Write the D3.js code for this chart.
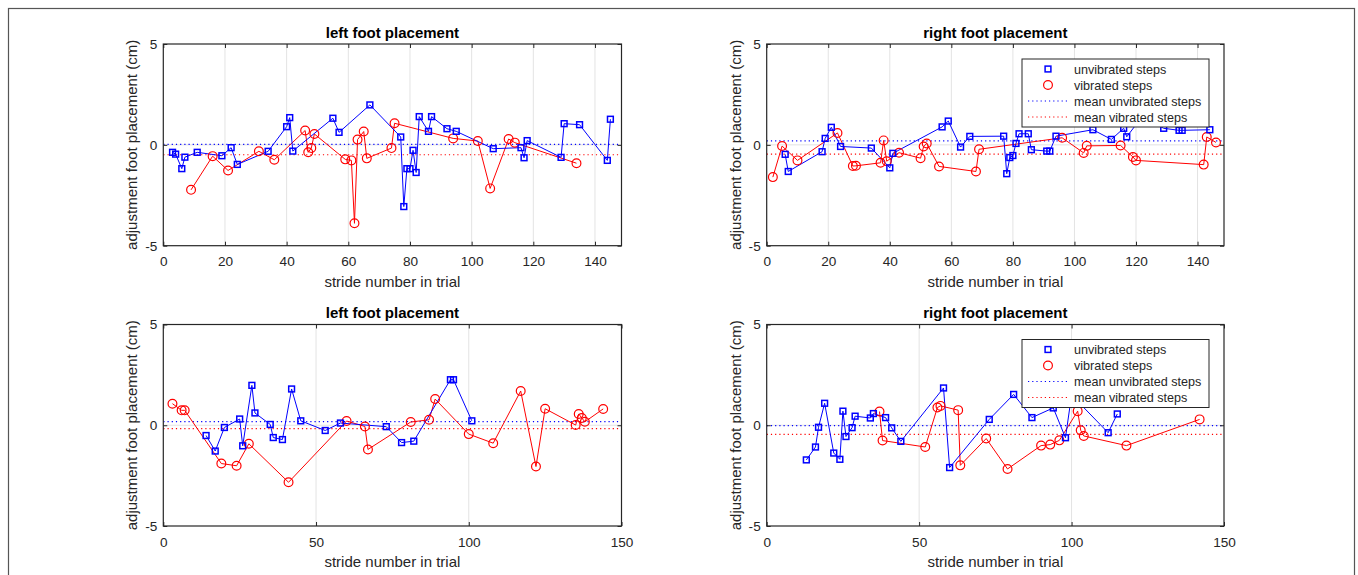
<!DOCTYPE html>
<html><head><meta charset="utf-8">
<script src="https://cdn.jsdelivr.net/npm/d3@7"></script>
<style>
body{margin:0;background:#fff;}
svg{display:block;font-family:"Liberation Sans",Arial,Helvetica,sans-serif;}
</style>
</head><body>
<svg id="c" width="1358" height="575"></svg>
<script>
// ---------- data ----------
const xTicksTop = [0,20,40,60,80,100,120,140];
const xTicksBottom = [0,50,100,150];
const yTicks = [-5,0,5];
const panelTitles = ["left foot placement","right foot placement","left foot placement","right foot placement"];
const xLabel = "stride number in trial";
const yLabel = "adjustment foot placement (cm)";
const legendLabels = ["unvibrated steps","vibrated steps","mean unvibrated steps","mean vibrated steps"];

// panel 1 (top left)
const p1Unvibrated = [[3,-0.37],[4,-0.46],[6,-1.18],[7,-0.61],[11,-0.37],[19,-0.54],[22,-0.14],[24,-0.97],[34,-0.32],[40,0.90],[41,1.35],[42,-0.31],[55,1.32],[57,0.62],[67,1.98],[77,0.39],[78,-3.06],[79,-1.18],[80,-1.18],[81,-0.27],[82,-1.37],[83,1.40],[86,0.67],[87,1.40],[92,0.80],[95,0.67],[107,-0.19],[116,-0.14],[117,-0.64],[118,0.21],[129,-0.62],[130,1.05],[135,1.00],[144,-0.77],[145,1.27]];
const p1Vibrated = [[9,-2.23],[16,-0.56],[21,-1.27],[31,-0.32],[36,-0.74],[46,0.71],[47,-0.37],[48,-0.16],[49,0.54],[59,-0.72],[61,-0.77],[62,-3.89],[63,0.26],[65,0.66],[66,-0.67],[74,-0.16],[75,1.07],[94,0.32],[102,0.19],[106,-2.16],[112,0.29],[114,0.11],[134,-0.91]];
const p1Means = [0.02,-0.49];

// panel 2 (top right)
const p2Unvibrated = [[6,-0.47],[7,-1.32],[18,-0.34],[19,0.32],[21,0.87],[24,-0.08],[34,-0.16],[40,-1.14],[41,-0.42],[57,0.89],[59,1.18],[63,-0.11],[66,0.42],[77,0.43],[78,-1.43],[79,-0.63],[80,-0.53],[81,0.07],[82,0.55],[85,0.55],[86,-0.24],[91,-0.31],[92,-0.31],[94,0.43],[106,0.75],[112,0.27],[116,0.82],[117,0.40],[122,1.40],[129,0.82],[134,0.72],[135,0.72],[144,0.75]];
const p2Vibrated = [[2,-1.60],[5,-0.06],[10,-0.77],[23,0.59],[28,-1.05],[29,-1.04],[37,-0.89],[38,0.22],[39,-0.81],[43,-0.39],[50,-0.66],[51,-0.08],[52,0.07],[56,-1.07],[68,-1.32],[69,-0.22],[96,0.35],[103,-0.40],[104,-0.05],[115,-0.03],[119,-0.60],[120,-0.77],[142,-0.98],[143,0.39],[146,0.12]];
const p2Means = [0.20,-0.46];

// panel 3 (bottom left)
const p3Unvibrated = [[14,-0.51],[17,-1.28],[20,-0.11],[25,0.31],[26,-1.02],[29,1.98],[30,0.61],[35,0.04],[36,-0.61],[39,-0.71],[42,1.80],[45,0.22],[53,-0.26],[58,0.11],[73,-0.07],[78,-0.86],[82,-0.79],[94,2.26],[95,2.26],[101,0.22]];
const p3Vibrated = [[3,1.07],[6,0.74],[7,0.74],[19,-1.90],[24,-2.01],[28,-0.92],[41,-2.83],[60,0.21],[66,-0.06],[67,-1.20],[81,0.16],[87,0.27],[89,1.30],[100,-0.44],[108,-0.89],[117,1.70],[122,-2.05],[125,0.82],[135,0.01],[136,0.56],[137,0.36],[138,0.17],[144,0.81]];
const p3Means = [0.18,-0.17];

// panel 4 (bottom right)
const p4Unvibrated = [[13,-1.72],[16,-1.08],[17,-0.10],[19,1.09],[22,-1.38],[24,-1.69],[25,0.70],[26,-0.56],[28,-0.12],[29,0.45],[34,0.36],[35,0.58],[39,0.38],[41,-0.13],[44,-0.80],[58,1.85],[60,-2.10],[73,0.29],[81,1.53],[87,0.38],[94,0.86],[98,-0.62],[100,1.50],[112,-0.37],[115,0.56]];
const p4Vibrated = [[37,0.68],[38,-0.76],[52,-1.08],[56,0.88],[57,0.96],[62.8,0.75],[63.5,-1.99],[72,-0.66],[79,-2.17],[90,-1.01],[93,-0.96],[96,-0.75],[102,0.70],[103,-0.25],[104,-0.53],[118,-1.01],[142,0.29]];
const p4Means = [-0.02,-0.45];

// ---------- layout ----------
const BLUE = "#0000ff", RED = "#ff0000", INK = "#262626", GRID = "#e3e3e3";
const panels = [
  {title:panelTitles[0], left:163.3, top:44,  w:458.2, h:201.7, xmax:148.6, ticks:xTicksTop,    unv:p1Unvibrated, vib:p1Vibrated, means:p1Means, legend:false},
  {title:panelTitles[1], left:766.7, top:44,  w:457.3, h:201.7, xmax:148.6, ticks:xTicksTop,    unv:p2Unvibrated, vib:p2Vibrated, means:p2Means, legend:true},
  {title:panelTitles[2], left:163.3, top:324.5,w:458.2, h:201.5, xmax:150,   ticks:xTicksBottom, unv:p3Unvibrated, vib:p3Vibrated, means:p3Means, legend:false},
  {title:panelTitles[3], left:766.7, top:324.5,w:457.3, h:201.5, xmax:150,   ticks:xTicksBottom, unv:p4Unvibrated, vib:p4Vibrated, means:p4Means, legend:true}
];

const svg = d3.select("#c");
svg.append("rect").attr("x",8.5).attr("y",8.5).attr("width",1346).attr("height",620)
  .attr("fill","none").attr("stroke","#555").attr("stroke-width",1.2);

function squareAt(g, cx, cy, s){
  g.append("rect").attr("x",cx-s/2).attr("y",cy-s/2).attr("width",s).attr("height",s)
   .attr("fill","none").attr("stroke",BLUE).attr("stroke-width",1.5);
}
function circleAt(g, cx, cy, r){
  g.append("circle").attr("cx",cx).attr("cy",cy).attr("r",r)
   .attr("fill","none").attr("stroke",RED).attr("stroke-width",1.2);
}

panels.forEach((p,i)=>{
  const L=p.left, T=p.top, W=p.w, H=p.h;
  const x = d3.scaleLinear().domain([0,p.xmax]).range([L,L+W]);
  const y = d3.scaleLinear().domain([-5,5]).range([T+H,T]);
  const g = svg.append("g");
  const clipId = "clip"+i;
  g.append("clipPath").attr("id",clipId).append("rect").attr("x",L).attr("y",T).attr("width",W).attr("height",H);

  // grid
  const grid = g.append("g").attr("stroke",GRID).attr("stroke-width",1);
  p.ticks.forEach(t=>{ if(t>0 && t<p.xmax) grid.append("line").attr("x1",x(t)).attr("x2",x(t)).attr("y1",T).attr("y2",T+H); });
  grid.append("line").attr("x1",L).attr("x2",L+W).attr("y1",y(0)).attr("y2",y(0));

  const data = g.append("g").attr("clip-path",`url(#${clipId})`);
  // mean lines
  data.append("line").attr("x1",L).attr("x2",L+W).attr("y1",y(p.means[0])).attr("y2",y(p.means[0]))
    .attr("stroke",BLUE).attr("stroke-width",1.2).attr("stroke-dasharray","1.2,3");
  data.append("line").attr("x1",L).attr("x2",L+W).attr("y1",y(p.means[1])).attr("y2",y(p.means[1]))
    .attr("stroke",RED).attr("stroke-width",1.2).attr("stroke-dasharray","1.2,3");

  const line = d3.line().x(d=>x(d[0])).y(d=>y(d[1]));
  data.append("path").datum(p.vib).attr("d",line).attr("fill","none").attr("stroke",RED).attr("stroke-width",1);
  data.append("path").datum(p.unv).attr("d",line).attr("fill","none").attr("stroke",BLUE).attr("stroke-width",1);
  p.vib.forEach(d=>circleAt(data, x(d[0]), y(d[1]), 4.4));
  p.unv.forEach(d=>squareAt(data, x(d[0]), y(d[1]), 5.8));

  // axes
  const fmt = d3.format("d");
  const ax = g.append("g").attr("transform",`translate(0,${T+H})`)
    .call(d3.axisBottom(x).tickValues(p.ticks).tickSizeInner(-4).tickSizeOuter(0).tickPadding(11).tickFormat(fmt));
  const axT = g.append("g").attr("transform",`translate(0,${T})`)
    .call(d3.axisTop(x).tickValues(p.ticks).tickSizeInner(-4).tickSizeOuter(0).tickFormat(""));
  const ay = g.append("g").attr("transform",`translate(${L},0)`)
    .call(d3.axisLeft(y).tickValues(yTicks).tickSizeInner(-4).tickSizeOuter(0).tickPadding(6).tickFormat(fmt));
  const ayR = g.append("g").attr("transform",`translate(${L+W},0)`)
    .call(d3.axisRight(y).tickValues(yTicks).tickSizeInner(-4).tickSizeOuter(0).tickFormat(""));
  [ax,axT,ay,ayR].forEach(a=>{
    a.select(".domain").remove();
    a.selectAll("line").attr("stroke",INK).attr("stroke-width",1);
    a.selectAll("text").attr("fill",INK).style("font-size","13.6px").style("font-family",'"Liberation Sans",Arial,sans-serif');
  });
  ay.selectAll("text").text(d=>d<0?"-"+Math.abs(d):d);
  g.append("rect").attr("x",L).attr("y",T).attr("width",W).attr("height",H)
    .attr("fill","none").attr("stroke",INK).attr("stroke-width",1.2);

  // labels
  g.append("text").attr("x",L+W/2).attr("y",T-6.5).attr("text-anchor","middle")
    .attr("fill","#000").style("font-weight","bold").style("font-size","15px").text(p.title);
  g.append("text").attr("x",L+W/2).attr("y",T+H+41).attr("text-anchor","middle")
    .attr("fill",INK).style("font-size","15px").text(xLabel);
  g.append("text").attr("transform",`translate(${L-26},${T+H/2}) rotate(-90)`).attr("text-anchor","middle")
    .attr("fill",INK).style("font-size","15px").text(yLabel);

  // legend
  if(p.legend){
    const bx = L+W-15-187, by = T+15, bw = 187, bh = 68;
    const lg = g.append("g");
    lg.append("rect").attr("x",bx).attr("y",by).attr("width",bw).attr("height",bh)
      .attr("fill","#fff").attr("stroke",INK).attr("stroke-width",1);
    const rows = [10,26,42,58];
    squareAt(lg, bx+26, by+rows[0], 5.8);
    circleAt(lg, bx+26, by+rows[1], 4.4);
    lg.append("line").attr("x1",bx+6).attr("x2",bx+46).attr("y1",by+rows[2]).attr("y2",by+rows[2])
      .attr("stroke",BLUE).attr("stroke-width",1.2).attr("stroke-dasharray","1.2,3");
    lg.append("line").attr("x1",bx+6).attr("x2",bx+46).attr("y1",by+rows[3]).attr("y2",by+rows[3])
      .attr("stroke",RED).attr("stroke-width",1.2).attr("stroke-dasharray","1.2,3");
    legendLabels.forEach((t,k)=>{
      lg.append("text").attr("x",bx+52).attr("y",by+rows[k]+4.5).attr("fill",INK)
        .style("font-size","12.6px").text(t);
    });
  }
});
</script>
</body></html>
